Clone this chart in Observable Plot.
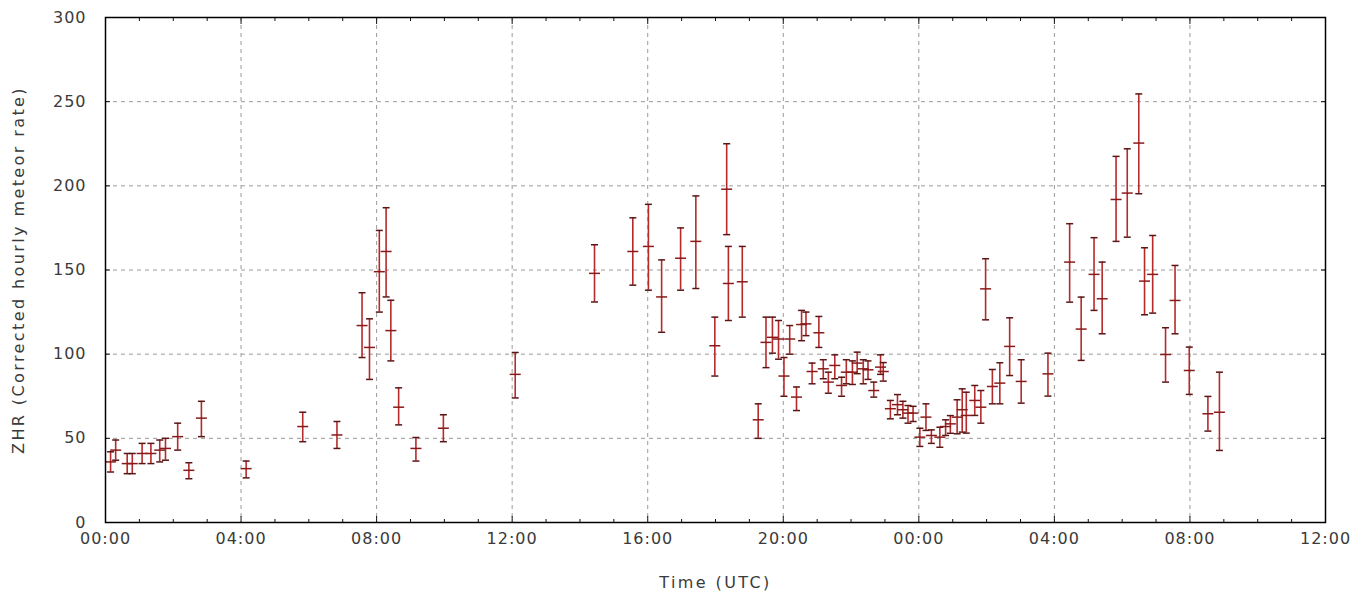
<!DOCTYPE html>
<html>
<head>
<meta charset="utf-8">
<script src="https://cdn.jsdelivr.net/npm/d3@7"></script>
<script src="https://cdn.jsdelivr.net/npm/@observablehq/plot@0.6"></script>
<style>
  html, body { margin: 0; padding: 0; background: #fff; }
  #chart svg { display: block; }
  #chart svg text { letter-spacing: 1px; }
  #chart svg text.axis-title { letter-spacing: 2.4px; }
</style>
</head>
<body>
<div id="chart"></div>
<script>
// Hours since 00:00 UTC of the first day
const hours = [0.15, 0.3, 0.64, 0.79, 1.08, 1.34, 1.6, 1.77, 2.13, 2.46, 2.83, 4.15, 5.82, 6.83,
  7.57, 7.79, 8.08, 8.28, 8.42, 8.65, 9.16, 9.97, 12.09, 14.43, 15.56, 16.02, 16.41, 16.97, 17.42,
  17.98, 18.33, 18.38, 18.79, 19.26, 19.49, 19.68, 19.86, 20.02, 20.19, 20.39, 20.54, 20.67, 20.85,
  21.05, 21.18, 21.33, 21.52, 21.72, 21.86, 22.04, 22.18, 22.36, 22.5, 22.67, 22.87, 22.95, 23.16,
  23.37, 23.53, 23.68, 23.83, 24.03, 24.21, 24.37, 24.62, 24.79, 24.93, 25.13, 25.28, 25.4, 25.65,
  25.83, 25.97, 26.17, 26.39, 26.68, 27.02, 27.81, 28.45, 28.79, 29.17, 29.41, 29.82, 30.15, 30.49,
  30.66, 30.9, 31.28, 31.56, 31.98, 32.53, 32.87];
// ZHR values
const zhr = [36, 43, 35, 35, 41, 41, 43, 44, 51, 31, 62, 32, 57, 52,
  117, 104, 149, 161, 114, 68.5, 44, 56, 88, 148, 161, 164, 134, 157, 167,
  105, 198, 142, 143, 61, 107, 110, 109, 87, 109, 74.5, 117.6, 118, 89.7,
  112.7, 91.3, 83.4, 93.3, 81.4, 89.3, 89.3, 94.7, 91.3, 90.7, 78.4, 92.3, 89.7, 67.6,
  70, 67, 65, 65, 50.7, 62.6, 51.7, 50.7, 57, 58.6, 62.6, 67, 63.6, 72.5,
  68.5, 138.8, 80.8, 82.8, 104.6, 83.8, 88.3, 154.7, 114.9, 147.4, 132.9, 191.9, 195.7, 225.4,
  143.4, 147.4, 99.8, 131.9, 90.3, 64.6, 65.5];
// Lower error bound
const lower = [30, 37, 29, 29, 35, 35, 36, 37, 43, 26, 51, 26.5, 48, 44,
  98, 85, 125, 134, 96, 58, 36.5, 48, 74, 131, 141, 138, 113, 138, 139,
  87, 171, 120, 122, 50, 92, 100.6, 97, 75, 100, 66.5, 108, 111, 82.4,
  104, 85.4, 76.8, 85.4, 75, 82.4, 82, 88.4, 82.4, 85, 74.5, 88, 84, 61.6,
  64, 62, 59, 60, 45.2, 54.7, 47, 44.7, 51.7, 53, 52.7, 53.7, 53.1, 63.6,
  59, 120.4, 70.5, 70.5, 87.3, 70.9, 75.1, 130.9, 96.3, 126, 112.1, 167, 169.5, 195.3,
  123.4, 124.4, 83.4, 112.1, 76.1, 54.3, 42.8];
// Upper error bound
const upper = [42, 49, 41, 41, 47, 47, 49, 50, 59, 35.5, 72, 36.5, 65.5, 60,
  136.5, 121, 173.5, 187, 132, 80, 50.5, 64, 101, 165, 181, 189, 156, 175, 194,
  122, 225, 164, 164, 70.5, 122, 122, 120, 98, 117, 80.5, 126, 125, 94.7,
  122.4, 96.7, 89.3, 99.6, 86.3, 96.7, 96, 101.2, 96.7, 96, 83.4, 99.6, 95, 72.5,
  76, 72, 69.5, 69, 56, 70.5, 55, 56.6, 61, 63.5, 72.9, 79.4, 77.4, 81.4,
  78.4, 156.7, 90.9, 94.9, 121.6, 96.7, 100.6, 177.5, 133.9, 169.2, 154.7, 217.5, 222, 254.6,
  163.2, 170.5, 115.7, 152.7, 104.2, 74.9, 89.3];

const xTicks = [0, 4, 8, 12, 16, 20, 24, 28, 32, 36];
const xTickLabels = ["00:00", "04:00", "08:00", "12:00", "16:00", "20:00", "00:00", "04:00", "08:00", "12:00"];
const xMinorTicks = d3.range(0, 37).filter(h => h % 4 !== 0);
const yTicks = [0, 50, 100, 150, 200, 250, 300];
const xLabel = "Time (UTC)";
const yLabel = "ZHR (Corrected hourly meteor rate)";

const data = hours.map((t, i) => ({t, v: zhr[i], lo: lower[i], hi: upper[i]}));

const capSymbol = {draw(ctx) { ctx.moveTo(-3.5, 0); ctx.lineTo(3.5, 0); }};
const crossSymbol = {draw(ctx) { ctx.moveTo(-5.5, 0); ctx.lineTo(5.5, 0); }};

const gridStyle = {stroke: "#9a9a9a", strokeOpacity: 1, strokeDasharray: "4,4", strokeWidth: 1};
const tickStyle = {fill: "none", stroke: "#111", strokeWidth: 1};

const chart = Plot.plot({
  width: 1353,
  height: 594,
  marginLeft: 105,
  marginRight: 28,
  marginTop: 17,
  marginBottom: 72,
  style: {fontFamily: "'DejaVu Sans', sans-serif", fontSize: "16px", color: "#3a3a3a", background: "#fff"},
  x: {domain: [0, 36]},
  y: {domain: [0, 300]},
  marks: [
    Plot.gridX(xTicks, gridStyle),
    Plot.gridY(yTicks, gridStyle),
    Plot.axisX(xTicks, {anchor: "bottom", tickSize: 0, tickPadding: 10, label: null,
      tickFormat: d => xTickLabels[xTicks.indexOf(d)]}),
    Plot.axisY(yTicks, {anchor: "left", tickSize: 0, tickPadding: 19, label: null}),
    Plot.axisX(xTicks, {anchor: "bottom", tickSize: -6, ...tickStyle, label: null}),
    Plot.axisX(xTicks, {anchor: "top", tickSize: -6, ...tickStyle, label: null}),
    Plot.axisX(xMinorTicks, {anchor: "bottom", tickSize: -3, ...tickStyle, label: null}),
    Plot.axisX(xMinorTicks, {anchor: "top", tickSize: -3, ...tickStyle, label: null}),
    Plot.axisY(yTicks, {anchor: "left", tickSize: -5, ...tickStyle, label: null}),
    Plot.axisY(yTicks, {anchor: "right", tickSize: -5, ...tickStyle, label: null}),
    Plot.text([xLabel], {frameAnchor: "bottom", textAnchor: "middle", dy: 65, fill: "#3a3a3a"}),
    Plot.text([yLabel], {frameAnchor: "left", textAnchor: "middle", rotate: -90, dx: -87, fill: "#3a3a3a"}),
    Plot.ruleX(data, {x: "t", y1: "lo", y2: "hi", stroke: "#b52a2a", strokeWidth: 1.6}),
    Plot.dot(data, {x: "t", y: "lo", symbol: capSymbol, fill: "none", stroke: "#5a1515", strokeWidth: 1.5}),
    Plot.dot(data, {x: "t", y: "hi", symbol: capSymbol, fill: "none", stroke: "#5a1515", strokeWidth: 1.5}),
    Plot.dot(data, {x: "t", y: "v", symbol: crossSymbol, fill: "none", stroke: "#8a1a1a", strokeWidth: 1.5}),
    Plot.frame({stroke: "#000", strokeWidth: 1.5})
  ]
});
d3.select(chart).selectAll("text")
  .filter(function() { return this.textContent === xLabel || this.textContent === yLabel; })
  .classed("axis-title", true);
document.getElementById("chart").appendChild(chart);
</script>
</body>
</html>
